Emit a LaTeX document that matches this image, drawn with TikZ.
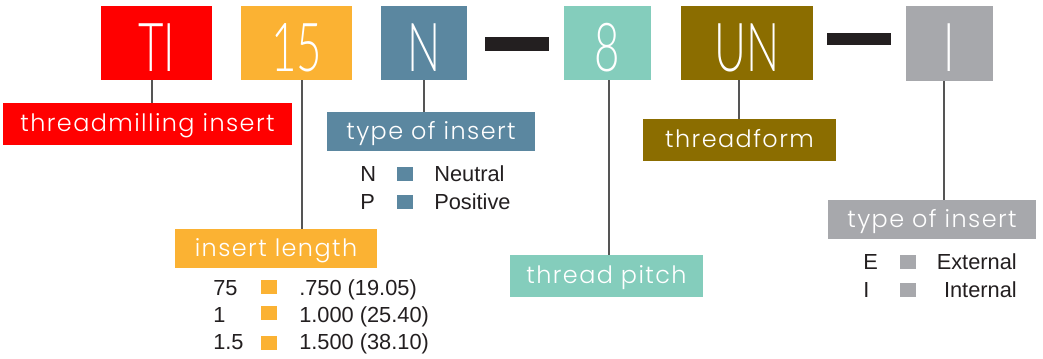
\documentclass[tikz,border=0pt]{standalone}
\usepackage{fontspec}
\setmainfont{Liberation Sans}
\IfFontExistsTF{Lato Light}
   {\newfontfamily\codefont[FakeStretch=0.65]{Lato Light}}
   {\newfontfamily\codefont[FakeStretch=0.65]{Lato}}
\IfFontExistsTF{Poppins Light}
   {\newfontfamily\tagfont[LetterSpace=6]{Poppins Light}}
   {\newfontfamily\tagfont[LetterSpace=6]{Poppins}}
\definecolor{TIred}{HTML}{FF0000}
\definecolor{LENorange}{HTML}{FBB233}
\definecolor{TYPblue}{HTML}{5B87A0}
\definecolor{PITCHteal}{HTML}{84CDBC}
\definecolor{FORMolive}{HTML}{8B6D00}
\definecolor{SIDEgray}{HTML}{A7A8AC}
\definecolor{INKblack}{HTML}{231F20}
\definecolor{LEADgray}{HTML}{555555}
\usetikzlibrary{positioning}

\tikzset{
   codebox/.style={inner sep=0pt, minimum height=1.85cm, text=white,
      text height=40pt, text depth=0pt, font=\codefont\fontsize{48}{48}\selectfont},
   tagbox/.style={inner sep=0pt, text=white, text height=15pt, text depth=4pt,
      font=\tagfont\fontsize{17}{17}\selectfont},
   lead/.style={draw=LEADgray, line width=1.1pt},
   legend/.style={inner sep=0pt, text=INKblack, text height=11pt, text depth=0pt,
      font=\fontsize{15.5}{15.5}\selectfont},
   chip/.style={inner sep=0pt, minimum width=0.4cm, minimum height=0.35cm}
}

\begin{document}
\begin{tikzpicture}[x=0.025cm, y=-0.025cm]
            % Frame
            \fill[white] (0,0) rectangle (1043,358);
            \useasboundingbox (0,0) rectangle (1043,358);
            % Code boxes
            \node[codebox, fill=TIred, minimum width=2.775cm] (ti) at (156.5,43) {TI};
            \node[codebox, fill=LENorange, minimum width=2.775cm] (len) at (296.5,43) {15};
            \node[codebox, fill=TYPblue, minimum width=2.15cm] (typ) at (424,43) {N};
            \node[codebox, fill=PITCHteal, minimum width=2.175cm] (pitch) at (607.5,43) {8};
            \node[codebox, fill=FORMolive, minimum width=3.3cm] (form) at (747,43) {UN};
            \node[codebox, fill=SIDEgray, minimum width=2.175cm, minimum height=1.875cm] (side) at (949.5,43.5) {I};
            % Dashes
            \fill[INKblack] (485,37) rectangle (549,51);
            \fill[INKblack] (827,33) rectangle (891,45);
            % Tags
            \node[tagbox, fill=TIred, minimum width=7.225cm, minimum height=1.05cm] (tiTag) at (147.5,124) {threadmilling insert};
            \node[tagbox, fill=TYPblue, minimum width=5.2cm, minimum height=0.975cm] (typTag) at (431,131.5) {type of insert};
            \node[tagbox, fill=LENorange, minimum width=5.05cm, minimum height=0.975cm] (lenTag) at (276,248.5) {insert length};
            \node[tagbox, fill=PITCHteal, minimum width=4.825cm, minimum height=1.05cm] (pitchTag) at (606.5,276) {thread pitch};
            \node[tagbox, fill=FORMolive, minimum width=4.825cm, minimum height=1.05cm] (formTag) at (739.5,140) {threadform};
            \node[tagbox, fill=SIDEgray, minimum width=5.2cm, minimum height=0.975cm] (sideTag) at (932,219.5) {type of insert};
            % Leads
            \draw[lead] ([xshift=-0.11cm]ti.south) -- ([xshift=-0.11cm]ti.south |- tiTag.north);
            \draw[lead] ([xshift=0.14cm]len.south) -- ([xshift=0.14cm]len.south |- lenTag.north);
            \draw[lead] (typ.south) -- (typ.south |- typTag.north);
            \draw[lead] ([xshift=0.04cm]pitch.south) -- ([xshift=0.04cm]pitch.south |- pitchTag.north);
            \draw[lead] ([xshift=-0.2cm]form.south) -- ([xshift=-0.2cm]form.south |- formTag.north);
            \draw[lead] ([xshift=-0.14cm]side.south) -- ([xshift=-0.14cm]side.south |- sideTag.north);
            % Type of insert: N / P
            \node[legend, anchor=west] (typN) at (360,174) {N};
            \node[chip, fill=TYPblue] (typNchip) at (405,174) {};
            \node[legend, anchor=west] (typNtext) at (434,174) {Neutral};
            \node[legend, anchor=west] (typP) at (360,202) {P};
            \node[chip, fill=TYPblue] (typPchip) at (405,202) {};
            \node[legend, anchor=west] (typPtext) at (434,202) {Positive};
            % Insert length: 75 / 1 / 1.5
            \node[legend, anchor=west] (lenA) at (213,288) {75};
            \node[chip, fill=LENorange] (lenAchip) at (269,287) {};
            \node[legend, anchor=west] (lenAtext) at (299,288) {.750 (19.05)};
            \node[legend, anchor=west] (lenB) at (213,315) {1};
            \node[chip, fill=LENorange] (lenBchip) at (269,313) {};
            \node[legend, anchor=west] (lenBtext) at (299,315) {1.000 (25.40)};
            \node[legend, anchor=west] (lenC) at (213,342) {1.5};
            \node[chip, fill=LENorange] (lenCchip) at (269,343) {};
            \node[legend, anchor=west] (lenCtext) at (299,342) {1.500 (38.10)};
            % Type of insert: E / I
            \node[legend, anchor=west] (sideE) at (863,262) {E};
            \node[chip, fill=SIDEgray] (sideEchip) at (908,262) {};
            \node[legend, anchor=east] (sideEtext) at (1017,262) {External};
            \node[legend, anchor=west] (sideI) at (863,290) {I};
            \node[chip, fill=SIDEgray] (sideIchip) at (908,290) {};
            \node[legend, anchor=east] (sideItext) at (1017,290) {Internal};
\end{tikzpicture}
\end{document}
